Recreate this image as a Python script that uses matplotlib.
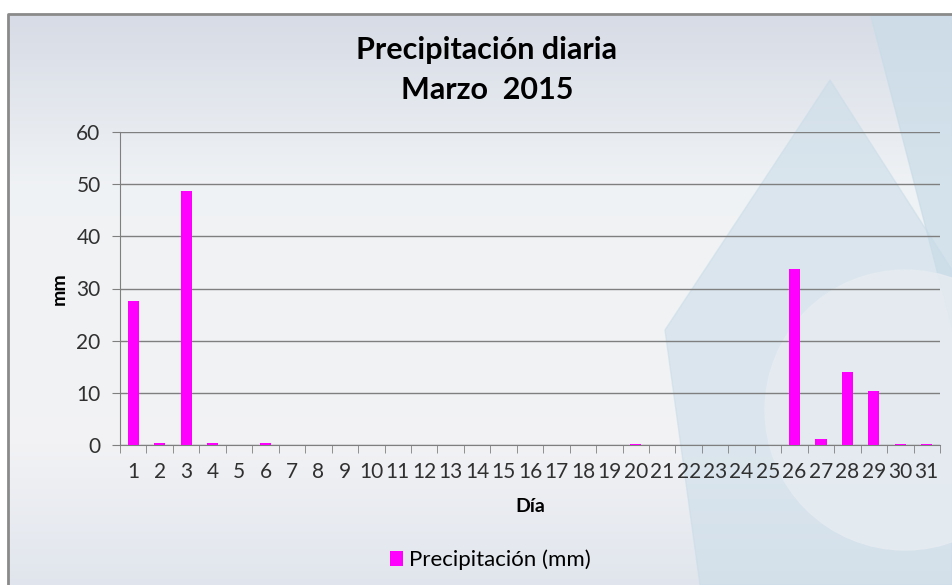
import numpy as np
import matplotlib.pyplot as plt
from matplotlib.patches import Polygon, Circle, Rectangle

dias = [str(d) for d in range(1, 32)]
precip = [27.6, 0.4, 48.6, 0.4, 0, 0.4, 0, 0, 0, 0,
          0, 0, 0, 0, 0, 0, 0, 0, 0, 0.2,
          0, 0, 0, 0, 0, 33.7, 1.2, 14.0, 10.4, 0.2, 0.2]
yticks = [0, 10, 20, 30, 40, 50, 60]

plt.rcParams['font.family'] = ['Lato', 'DejaVu Sans']

fig = plt.figure(figsize=(9.52, 5.85), dpi=100)
W, H = 952, 585

# background: soft vertical gradient, darker at top and bottom
bg = fig.add_axes([0, 0, 1, 1], zorder=-10)
bg.set_xlim(0, W)
bg.set_ylim(H, 0)
bg.axis('off')
stops = [0.0, 0.3, 0.75, 1.0]
cols = np.array([[0.84, 0.86, 0.90], [0.94, 0.95, 0.96], [0.95, 0.95, 0.96], [0.88, 0.90, 0.93]])
t = np.linspace(0, 1, 300)
rows = np.stack([np.interp(t, stops, cols[:, k]) for k in range(3)], axis=1)
bg.imshow(rows[:, None, :].repeat(2, axis=1), extent=[8, W, H, 14], aspect='auto', zorder=0)
bg.add_patch(Rectangle((0, 0), W, 14, color='white', zorder=1))
bg.add_patch(Rectangle((0, 0), 8, H, color='white', zorder=1))
# watermark shapes
wm = '#c9dce8'
bg.add_patch(Polygon([[870, 14], [952, 14], [952, 330]], closed=True, color=wm, alpha=0.7, zorder=2))
bg.add_patch(Polygon([[830, 80], [952, 270], [952, 585], [700, 585], [665, 330]], closed=True, color=wm, alpha=0.55, zorder=2))
bg.add_patch(Circle((905, 410), 140, color='#e6ecf1', alpha=0.85, zorder=3))
bg.plot([8, 8, W], [H, 14, 14], color='#8a8a8a', lw=2, zorder=4)

ax = fig.add_axes([120 / W, 1 - 445 / H, 820 / W, 313 / H])
ax.patch.set_alpha(0)
x = np.arange(len(dias))
ax.bar(x, precip, width=0.42, color='#ff00ff', zorder=3, label='Precipitación (mm)')
ax.set_xlim(-0.5, len(dias) - 0.5)
ax.set_ylim(0, 60)
ax.set_yticks(yticks)
ax.tick_params(axis='y', labelsize=15, colors='#7f7f7f', labelcolor='#303030', length=6, pad=8)
ax.set_xticks(x)
ax.set_xticklabels(dias)
ax.set_xticks(np.arange(-0.5, len(dias), 1), minor=True)
ax.tick_params(axis='x', which='major', length=0, labelsize=15, labelcolor='#303030', pad=12)
ax.tick_params(axis='x', which='minor', length=6, color='#7f7f7f')
ax.grid(axis='y', color='#7f7f7f', lw=1, zorder=1)
for s in ['top', 'right']:
    ax.spines[s].set_visible(False)
ax.spines['left'].set_color('#7f7f7f')
ax.spines['bottom'].set_color('#7f7f7f')

ax.set_ylabel('mm', fontsize=14, fontweight='bold', labelpad=6)
ax.set_xlabel('Día', fontsize=14, fontweight='bold', labelpad=12)
fig.text(487 / W, 1 - 50 / H, 'Precipitación diaria', ha='center', va='center', fontsize=22, fontweight='bold')
fig.text(487 / W, 1 - 90 / H, 'Marzo  2015', ha='center', va='center', fontsize=22, fontweight='bold')
fig.legend(loc='center', bbox_to_anchor=(490 / W, 1 - 560 / H), frameon=False, fontsize=16,
           handlelength=0.6, handleheight=0.6, handletextpad=0.25)

fig.savefig('out.png', dpi=100)
